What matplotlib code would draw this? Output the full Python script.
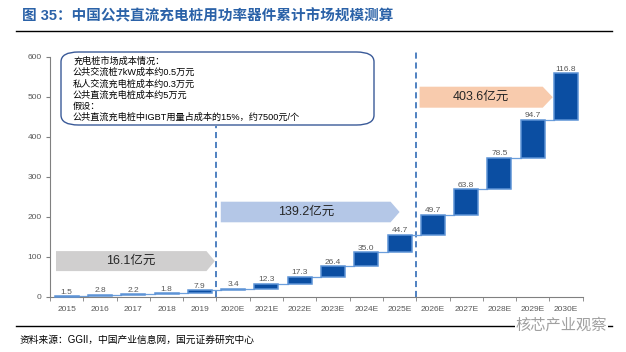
import matplotlib
matplotlib.use('Agg')
import matplotlib.pyplot as plt
from matplotlib.patches import Polygon, FancyBboxPatch
from matplotlib.lines import Line2D
import numpy as np

plt.rcParams['font.family'] = ['Liberation Sans', 'Noto Sans CJK SC', 'DejaVu Sans']

# data
years = ['2015', '2016', '2017', '2018', '2019', '2020E', '2021E', '2022E',
         '2023E', '2024E', '2025E', '2026E', '2027E', '2028E', '2029E', '2030E']
added = [1.5, 2.8, 2.2, 1.8, 7.9, 3.4, 12.3, 17.3, 26.4, 35.0, 44.7, 49.7,
         63.8, 78.5, 94.7, 116.8]
phase_labels = ['16.1亿元', '139.2亿元', '403.6亿元']
note_lines = ['充电桩市场成本情况：',
              '公共交流桩7kW成本约0.5万元',
              '私人交流充电桩成本约0.3万元',
              '公共直流充电桩成本约5万元',
              '假设：',
              '公共直流充电桩中IGBT用量占成本的15%，约7500元/个']

added = np.array(added)
top = np.cumsum(added)
bottom = top - added
x = np.arange(len(years))

fig = plt.figure(figsize=(6.26, 3.52), dpi=100)
ax = fig.add_axes([50/626, 1-296.7/352, 532.7/626, 240/352])

w = 0.72
ax.bar(x, added, bottom=bottom, width=w, color='#0b4ea2', edgecolor='#5d93d6',
       linewidth=1.1, zorder=3, clip_on=False)
for i in range(len(x) - 1):
    ax.plot([i + w/2, i + 1 - w/2], [top[i], top[i]], color='#6c9fdc', lw=0.9, zorder=2)
for i in range(len(x)):
    ax.text(x[i], top[i] + 1.5, f'{added[i]:.1f}', ha='center', va='bottom',
            fontsize=6, color='#595959', zorder=4)

ax.set_xlim(-0.5, len(x) - 0.5)
ax.set_ylim(0, 600)
ax.set_yticks(range(0, 601, 100))
ax.set_xticks(x)
ax.set_xticklabels(years)
ax.set_xticks(np.arange(-0.5, len(x), 1), minor=True)
ax.tick_params(axis='x', which='major', length=0, labelsize=6, colors='#595959', pad=7)
ax.tick_params(axis='x', which='minor', length=3, color='#808080')
ax.tick_params(axis='y', length=3, labelsize=6, colors='#595959', color='#808080', pad=3)
for s in ['top', 'right']:
    ax.spines[s].set_visible(False)
for s in ['left', 'bottom']:
    ax.spines[s].set_color('#808080')
    ax.spines[s].set_linewidth(0.8)

# dashed separators
ax.plot([4.5, 4.5], [0, 427], color='#1f5fb0', lw=1.1, ls=(0, (4, 2.5)), zorder=1)
ax.plot([10.5, 10.5], [0, 612], color='#1f5fb0', lw=1.1, ls=(0, (4, 2.5)),
        zorder=1, clip_on=False)

# phase arrows
arrows = [(-0.32, 4.2, 4.45, 64, 114, '#d0cfcf'),
          (4.63, 9.73, 10.0, 186, 237.5, '#b4c7e7'),
          (10.6, 14.3, 14.6, 472.5, 525, '#f8cbad')]
for (x0, xt, x1, y0, y1, c), lab in zip(arrows, phase_labels):
    ax.add_patch(Polygon([[x0, y0], [xt, y0], [x1, (y0+y1)/2], [xt, y1], [x0, y1]],
                         closed=True, facecolor=c, edgecolor='none', zorder=1))
    ax.text((x0 + xt)/2, (y0+y1)/2, lab, ha='center', va='center', fontsize=9,
            color='#262626', zorder=2)

# note box
fig.patches.append(FancyBboxPatch((61/626, 1-125/352), 313/626, 73/352,
                                  boxstyle='round,pad=0,rounding_size=0.028',
                                  transform=fig.transFigure, facecolor='white',
                                  edgecolor='#3a5a98', linewidth=1.0, zorder=5))
for k, line in enumerate(note_lines):
    fig.text(73/626, 1-(61 + k*11.3)/352, line, fontsize=6.6, color='black',
             va='center', ha='left', zorder=6)

# title and footer
fig.text(22/626, 1-16/352, '图 35：中国公共直流充电桩用功率器件累计市场规模测算',
         fontsize=10.5, fontweight='bold', color='#2b62a8', va='center')
fig.add_artist(Line2D([16/626, 612/626], [1-30.7/352, 1-30.7/352], color='black', lw=1.0))
fig.add_artist(Line2D([16/626, 612/626], [1-326/352, 1-326/352], color='black', lw=1.0))
fig.text(20/626, 1-340/352, '资料来源：GGII，中国产业信息网，国元证券研究中心',
         fontsize=7, color='black', va='center')
fig.text(607/626, 1-325/352, '核芯产业观察', fontsize=11, color='#a0a0a0',
         ha='right', va='center', zorder=7,
         bbox=dict(facecolor='white', edgecolor='none', pad=0.5))

fig.savefig('out.png', dpi=100)
